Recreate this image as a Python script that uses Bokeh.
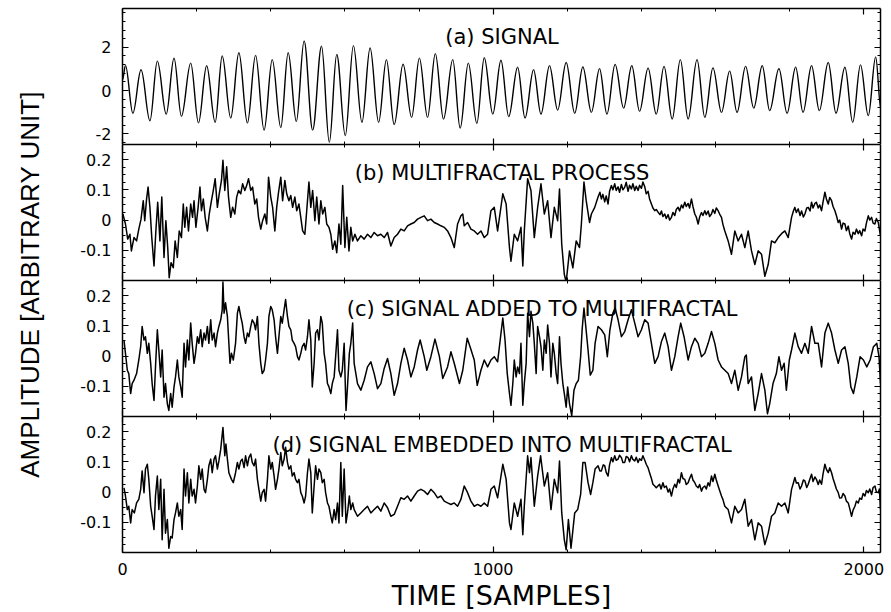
import math
from bokeh.plotting import figure
from bokeh.models import Range1d, LinearAxis, FixedTicker, PrintfTickFormatter, Label, Title
from bokeh.layouts import row, column
from bokeh.embed import file_html
from bokeh.resources import INLINE

# ---------------- data ----------------
# (a) signal: successive extrema (sample index, amplitude)
sig_x = [0, 8, 28, 50, 74, 94, 118, 139, 159, 184, 205, 227, 250, 269, 292, 314, 337, 359, 382, 404,
         427, 447, 469, 490, 513, 537, 558, 578, 601, 623, 646, 668, 691, 712, 733, 757, 780, 801, 823, 844,
         866, 891, 911, 933, 956, 976, 999, 1021, 1042, 1066, 1086, 1109, 1129, 1152, 1174, 1197, 1220, 1242, 1265, 1287,
         1307, 1329, 1352, 1374, 1395, 1418, 1440, 1461, 1483, 1505, 1526, 1550, 1571, 1593, 1616, 1638, 1658, 1681, 1703, 1726,
         1746, 1771, 1793, 1816, 1836, 1859, 1880, 1904, 1925, 1949, 1970, 1991, 2012, 2032, 2046]
sig_y = [0.5, 1.16, -1.05, 0.96, -1.40, 1.36, -1.09, 1.50, -1.19, 1.27, -1.50, 1.15, -1.47, 1.60, -1.27, 1.75, -1.50, 1.63, -1.83, 1.43,
         -1.71, 1.75, -1.43, 2.30, -1.83, 2.05, -2.40, 1.67, -2.09, 2.08, -1.47, 1.97, -1.47, 1.43, -1.58, 1.22, -1.24, 1.50, -1.24, 1.71,
         -1.32, 1.43, -1.74, 1.27, -1.52, 1.52, -1.09, 1.40, -1.21, 1.08, -1.27, 0.96, -1.09, 1.15, -0.90, 1.30, -1.05, 1.09, -1.01, 1.01,
         -1.09, 1.21, -0.81, 1.15, -0.96, 1.04, -1.09, 1.12, -1.32, 1.43, -1.32, 1.43, -1.24, 1.05, -1.01, 0.90, -1.01, 1.12, -0.81, 1.15,
         -0.93, 1.01, -1.05, 1.08, -1.01, 1.15, -0.93, 1.30, -1.05, 1.08, -1.47, 1.19, -1.16, 1.55, -0.85]

# (b) multifractal process, first half
b_x1 = [1, 8, 14, 20, 24, 31, 38, 44, 50, 56, 60, 65, 69, 74, 79, 85, 90, 95, 101, 106, 112, 117, 122, 126, 131, 137, 142, 148, 153, 159,
        164, 168, 173, 178, 184, 189, 193, 198, 204, 209, 213, 218, 223, 229, 234, 240, 245, 250, 256, 261, 267, 271, 276, 281, 286, 292, 297,
        303, 308, 313, 319, 324, 330, 335, 340, 346, 351, 357, 362, 367, 373, 378, 384, 389, 394, 400, 405, 411, 416, 421, 427, 432, 438, 443,
        449, 454, 459, 465, 470, 476, 481, 486, 492, 497, 503, 508, 513, 519, 524, 530, 535, 540, 546, 551, 557, 562, 567, 573, 578, 584, 589,
        594, 600, 605, 611, 616, 621, 627, 634, 643, 652, 661, 670, 679, 688, 697, 706, 715, 724, 733, 742, 751, 760, 769, 778, 787, 796, 805,
        814, 823, 832, 841, 850, 859, 868, 877, 886, 895, 904, 913, 918, 922, 931, 940, 949, 958, 967, 976, 985]
b_y1 = [0.020, -0.013, -0.063, -0.047, -0.102, -0.058, -0.069, -0.030, 0.003, 0.064, -0.002, 0.070, 0.109, 0.042, -0.058, -0.152, -0.036,
        0.059, -0.069, 0.076, -0.124, -0.002, -0.091, -0.191, -0.141, -0.158, -0.069, -0.124, -0.036, -0.058, 0.053, -0.024, 0.042, -0.036,
        0.053, 0.009, 0.064, -0.024, 0.042, 0.109, 0.031, 0.070, 0.009, -0.036, 0.020, 0.064, 0.098, 0.137, 0.042, 0.087, 0.131, 0.198, 0.098,
        0.176, 0.076, 0.009, 0.042, 0.020, 0.076, 0.098, 0.087, 0.120, 0.098, 0.114, 0.137, 0.098, 0.109, 0.053, 0.070, 0.009, -0.030, -0.002,
        0.020, -0.013, 0.142, 0.076, 0.042, -0.036, 0.042, 0.092, 0.142, 0.064, 0.131, 0.087, 0.064, 0.081, 0.042, 0.076, 0.031, 0.053, 0.009,
        -0.036, -0.047, 0.031, 0.126, 0.042, 0.098, -0.002, 0.076, -0.013, 0.064, 0.020, 0.042, -0.013, -0.024, -0.047, -0.097, -0.069, -0.108,
        -0.013, -0.080, 0.114, -0.091, 0.009, -0.102, -0.024, -0.069, -0.047, -0.069, -0.052, -0.063, -0.047, -0.058, -0.041, -0.052, -0.047,
        -0.058, -0.041, -0.086, -0.058, -0.047, -0.030, -0.036, -0.019, -0.013, -0.008, 0.003, 0.009, 0.014, -0.002, 0.003, -0.008, -0.013,
        -0.019, -0.024, -0.036, -0.058, -0.091, -0.013, 0.014, 0.020, -0.019, -0.008, -0.030, -0.036, -0.047, -0.036, -0.058, -0.047]
# (b) second half
b_x2 = [994, 1003, 1012, 1026, 1035, 1044, 1048, 1057, 1066, 1075, 1080, 1084, 1093, 1102, 1111, 1120, 1129, 1138, 1147, 1156,
        1165, 1174, 1179, 1185, 1192, 1197, 1206, 1215, 1224, 1233, 1238, 1245, 1251, 1260, 1265, 1274,
        1283, 1288, 1292, 1296, 1301, 1305, 1310, 1314, 1319, 1323, 1328, 1332, 1337, 1341, 1346, 1350, 1355, 1359, 1364, 1368,
        1373, 1377, 1382, 1386, 1391, 1395, 1400, 1404, 1409, 1413, 1418, 1422, 1427, 1431, 1436, 1440, 1445,
        1450, 1454, 1458, 1463, 1467, 1472, 1476, 1481, 1485, 1490, 1494, 1499, 1503, 1508, 1512, 1517, 1521, 1526, 1530, 1535,
        1539, 1544, 1548, 1553, 1557, 1562, 1566, 1571, 1575, 1580, 1584, 1589, 1593, 1598, 1602, 1607, 1611, 1616, 1620, 1625,
        1634, 1643, 1652, 1661, 1670, 1679, 1688, 1697, 1706, 1715, 1724, 1733, 1742, 1751, 1760, 1769, 1778, 1787, 1796,
        1805, 1810, 1814, 1818, 1823, 1828, 1832, 1837, 1841, 1846, 1850, 1855, 1859, 1863, 1868, 1872, 1877, 1881, 1886, 1890,
        1895, 1899, 1904, 1908, 1913, 1917, 1922, 1926, 1931, 1935, 1940, 1944, 1949, 1953, 1958, 1962, 1967, 1971, 1976, 1980,
        1985, 1989, 1994, 1998, 2003, 2007, 2012, 2016, 2021, 2025, 2030, 2034, 2039, 2042, 2045]
b_y2 = [0.031, 0.042, -0.036, 0.087, 0.053, -0.091, -0.136, -0.047, -0.069, -0.024, -0.152, -0.036, 0.137, 0.098, -0.058, 0.042,
        0.120, 0.020, 0.064, -0.058, 0.042, -0.002, 0.103, -0.080, -0.180, -0.205, -0.102, -0.158, -0.069, -0.091, -0.013, 0.126,
        0.064, -0.008, 0.020, 0.042,
        0.076, 0.092, 0.070, 0.085, 0.060, 0.080, 0.053, 0.095, 0.114, 0.100, 0.120, 0.098, 0.110, 0.092, 0.118, 0.100, 0.109, 0.125,
        0.095, 0.115, 0.103, 0.120, 0.098, 0.112, 0.098, 0.115, 0.105, 0.126, 0.110, 0.087, 0.095, 0.070, 0.053, 0.040, 0.031, 0.035,
        0.026,
        0.018, 0.030, 0.012, 0.020, 0.005, 0.018, 0.000, 0.009, 0.025, 0.015, 0.035, 0.042, 0.030, 0.050, 0.040, 0.059, 0.045, 0.055,
        0.040, 0.070, 0.045, 0.020, 0.010, -0.013, 0.010, 0.025, 0.015, 0.031, 0.018, 0.030, 0.012, 0.020, 0.035, 0.022, 0.040, 0.031,
        0.020, 0.009, -0.015, -0.036,
        -0.069, -0.113, -0.036, -0.069, -0.047, -0.091, -0.036, -0.102, -0.147, -0.102, -0.113, -0.186, -0.147, -0.069, -0.075, -0.058,
        -0.045, -0.036, -0.058,
        0.009, 0.030, 0.042, 0.025, 0.037, 0.015, 0.030, 0.010, 0.020, 0.040, 0.042, 0.030, 0.059, 0.040, 0.055, 0.059, 0.040, 0.050,
        0.031, 0.060, 0.092, 0.070, 0.053, 0.075, 0.064, 0.045, 0.031, 0.015, -0.008, 0.000, -0.030, -0.010, -0.013, -0.035, -0.020,
        -0.045, -0.063, -0.040, -0.047, -0.030, -0.045, -0.035, -0.052, -0.030, -0.036, -0.010, 0.014, 0.000, 0.009, -0.010, -0.013,
        0.005, -0.008, -0.030, -0.052]

# (c) signal added to multifractal
c_x = [4, 8, 13, 17, 22, 26, 31, 38, 44, 49, 53, 58, 62, 67, 71, 76, 80, 85, 89, 94, 98, 103, 107, 112, 116, 121, 125, 130, 134, 139, 143,
       148, 152, 157, 161, 166, 170, 175, 179, 184, 188, 193, 197, 202, 206, 211, 215, 220, 224, 229, 233, 238, 242, 247, 251, 256, 260, 265,
       269, 271, 274, 278, 283, 287, 290, 294, 299, 305, 310, 314, 319, 323, 328, 332, 337, 341, 346, 350, 355, 359, 364, 368, 373, 377, 382,
       386, 391, 395, 400, 404, 409, 413, 418, 422, 427, 431, 436, 440, 445, 449, 454, 458, 463, 467, 472, 476, 481, 485, 490, 494, 499, 503,
       508, 512, 517, 521, 526, 530, 535, 539, 544, 548, 553, 557, 562, 566, 571, 575, 580, 584, 589, 593, 598, 603, 607, 612, 616, 621, 625,
       634, 643, 652, 661, 670, 679, 688, 697, 706, 715, 724, 733, 742, 751, 760, 769, 778, 787, 796, 803, 814, 821, 832, 843, 855, 864, 877,
       886, 895, 909, 918, 930, 939, 949, 957, 967, 976, 985,
       994, 1003, 1012, 1020, 1026, 1032, 1038, 1044, 1048, 1053, 1057, 1062, 1066, 1071, 1075, 1080, 1084, 1089, 1093, 1098, 1102, 1107,
       1111, 1116, 1120, 1125, 1129, 1134, 1138, 1143, 1147, 1152, 1156, 1161, 1165, 1170, 1174, 1179, 1183, 1188, 1192, 1197, 1201, 1206,
       1212, 1218, 1224, 1230, 1236, 1240, 1245, 1249, 1256, 1262, 1269, 1275, 1283, 1292, 1301, 1308, 1315, 1323, 1329, 1337, 1346, 1355,
       1364, 1373, 1382, 1391, 1400, 1409, 1418, 1427, 1436, 1445, 1454, 1463, 1472, 1481, 1490, 1499, 1506, 1515, 1526, 1535, 1544, 1553,
       1562, 1571, 1580, 1589, 1598, 1607, 1616, 1625, 1634, 1643, 1652, 1661, 1670, 1679, 1683, 1688, 1697, 1706, 1715, 1724, 1733, 1740,
       1746, 1755, 1764, 1771, 1778, 1785, 1791, 1799, 1805, 1814, 1823, 1832, 1841, 1850, 1859, 1868, 1877, 1886, 1895, 1904, 1913, 1922,
       1931, 1940, 1949, 1958, 1965, 1972, 1981, 1990, 1999, 2008, 2017, 2026, 2035, 2041, 2045]
c_y = [0.053, 0.009, -0.047, -0.058, -0.124, -0.091, -0.080, -0.058, -0.013, 0.031, 0.098, 0.053, 0.064, 0.009, 0.042, -0.024, -0.091,
       -0.147, -0.036, 0.087, 0.020, -0.069, 0.020, -0.136, -0.091, -0.158, -0.180, -0.124, -0.169, -0.102, -0.069, -0.013, -0.069, -0.102,
       -0.136, 0.042, -0.036, 0.053, -0.013, 0.109, 0.042, -0.024, 0.009, 0.064, 0.042, 0.087, 0.031, 0.076, 0.053, 0.098, 0.042, 0.120,
       0.053, 0.076, 0.031, 0.076, 0.098, 0.120, 0.153, 0.245, 0.142, 0.176, 0.131, 0.042, -0.024, 0.009, -0.013, 0.042, 0.142, 0.164, 0.131,
       0.109, 0.064, 0.042, 0.076, 0.064, 0.098, 0.120, 0.109, 0.087, 0.131, 0.042, -0.024, -0.058, -0.047, -0.013, 0.042, 0.131, 0.164,
       0.153, 0.120, 0.064, 0.009, 0.064, 0.131, 0.109, 0.153, 0.187, 0.131, 0.098, 0.087, 0.053, 0.042, 0.031, -0.002, -0.013, 0.009, 0.031,
       0.042, 0.020, 0.064, 0.120, 0.053, -0.102, -0.024, 0.076, 0.087, 0.053, 0.131, 0.109, 0.009, -0.024, -0.091, -0.102, -0.124, -0.091,
       -0.069, -0.002, 0.087, -0.047, -0.069, -0.047, 0.042, -0.180, -0.102, 0.009, 0.042, 0.109, -0.024, -0.091, -0.113, -0.080, -0.036,
       -0.019, -0.058, -0.108, -0.091, -0.041, -0.008, -0.058, -0.130, -0.091, -0.024, 0.026, -0.013, -0.069, -0.036, 0.020, 0.053, -0.002,
       -0.047, -0.002, 0.056, -0.002, -0.074, -0.036, 0.014, -0.024, -0.091, -0.047, 0.059, 0.026, -0.013, -0.097, -0.047, -0.013, -0.036,
       -0.013, -0.002, -0.019, 0.064, 0.126, 0.053, -0.058, -0.124, -0.163, -0.091, -0.013, -0.069, -0.036, -0.058, 0.042, -0.163, -0.091,
       -0.024, 0.142, 0.064, 0.148, 0.109, 0.042, -0.058, 0.098, 0.064, 0.031, -0.047, 0.053, 0.009, 0.103, 0.042, -0.069, 0.042, 0.009,
       -0.058, -0.091, 0.064, -0.024, -0.091, -0.124, -0.169, -0.102, -0.158, -0.197, -0.113, -0.091, -0.080, -0.002, 0.087, 0.159, 0.109,
       0.020, -0.063, -0.047, 0.042, 0.098, 0.087, 0.070, -0.002, 0.087, 0.142, 0.159, 0.120, 0.064, 0.081, 0.120, 0.153, 0.109, 0.064,
       0.087, 0.120, 0.109, 0.042, -0.024, -0.002, 0.048, 0.076, 0.031, -0.047, -0.002, 0.064, 0.109, 0.064, -0.013, 0.031, 0.059, 0.042,
       -0.002, 0.009, 0.042, 0.081, 0.042, -0.013, -0.036, -0.047, -0.058, -0.091, -0.047, -0.113, -0.069, -0.002, 0.003, -0.091, -0.069,
       -0.180, -0.124, -0.058, -0.113, -0.191, -0.158, -0.091, -0.058, -0.002, -0.047, -0.024, -0.113, -0.013, 0.020, 0.076, 0.031, 0.009,
       0.042, 0.009, 0.098, 0.042, 0.042, -0.036, 0.076, 0.109, 0.076, 0.020, -0.024, 0.020, 0.031, -0.024, -0.102, -0.124, -0.069, -0.002,
       -0.013, -0.036, -0.013, 0.031, 0.042, -0.002, -0.091]

# (d) signal embedded into multifractal, first half
d_x1 = [4, 8, 13, 17, 22, 26, 32, 38, 44, 49, 53, 58, 62, 67, 71, 76, 80, 85, 89, 94, 98, 103, 107, 112, 116, 121, 125, 130, 134, 139, 143,
        148, 152, 157, 161, 166, 170, 175, 179, 184, 188, 193, 197, 202, 206, 211, 215, 220, 224, 229, 233, 238, 242, 247, 251, 256, 260, 265,
        271, 276, 279, 283, 287, 294, 299, 305, 310, 314, 319, 323, 328, 332, 337, 341, 346, 350, 355, 359, 364, 368, 373, 377, 382, 386, 391,
        395, 400, 404, 409, 413, 418, 422, 427, 431, 436, 440, 445, 449, 454, 458, 463, 467, 472, 476, 481, 485, 490, 494, 499, 503, 508, 512,
        517, 521, 526, 530, 535, 539, 544, 548, 553, 557, 562, 566, 571, 575, 580, 584, 589, 593, 598, 603, 607, 612, 616, 621, 625, 634, 643,
        652, 661, 670, 679, 688, 697, 706, 715, 724, 733, 742, 751, 760, 769, 778, 787, 796, 805, 814, 823, 832, 841, 850, 859, 868, 877, 886,
        895, 904, 913, 922, 931, 940, 949, 958, 967, 976, 985]
d_y1 = [0.014, -0.013, -0.058, -0.047, -0.102, -0.058, -0.069, -0.036, -0.024, 0.009, 0.070, -0.002, 0.076, 0.092, 0.042, -0.047, -0.080,
        -0.124, -0.013, 0.053, -0.058, 0.042, -0.158, 0.009, -0.136, -0.091, -0.186, -0.147, -0.152, -0.091, -0.069, -0.036, -0.080, -0.058,
        -0.124, 0.076, -0.013, 0.064, -0.036, 0.042, -0.013, 0.009, -0.036, 0.020, 0.087, 0.042, 0.076, 0.009, -0.002, 0.042, 0.087, 0.109,
        0.064, 0.109, 0.120, 0.076, 0.103, 0.142, 0.214, 0.120, 0.159, 0.109, 0.064, 0.042, 0.031, 0.064, 0.098, 0.076, 0.103, 0.109, 0.081,
        0.120, 0.087, 0.114, 0.126, 0.098, 0.087, 0.109, 0.042, 0.009, -0.030, -0.002, 0.009, -0.030, 0.042, 0.120, 0.076, 0.098, 0.053, 0.009,
        0.042, 0.076, 0.131, 0.087, 0.109, 0.148, 0.098, 0.076, 0.087, 0.053, 0.064, 0.042, 0.031, 0.042, -0.002, -0.013, -0.036, -0.013,
        0.064, 0.109, 0.064, -0.069, 0.020, 0.087, 0.042, 0.076, 0.064, 0.031, 0.042, -0.002, -0.036, -0.047, -0.080, -0.102, -0.058, -0.091,
        -0.036, -0.102, 0.098, -0.080, 0.076, -0.102, -0.069, -0.013, -0.058, -0.036, -0.058, -0.080, -0.069, -0.058, -0.047, -0.069, -0.058,
        -0.047, -0.063, -0.036, -0.052, -0.080, -0.074, -0.047, -0.019, -0.024, -0.013, -0.030, -0.013, 0.003, 0.009, 0.003, -0.008, 0.009,
        -0.002, -0.019, -0.013, -0.030, -0.036, -0.041, -0.036, -0.047, -0.024, 0.020, -0.002, -0.030, -0.047, -0.041, -0.047, -0.036, -0.047]
# (d) second half
d_x2 = [994, 1003, 1012, 1026, 1035, 1044, 1048, 1057, 1066, 1075, 1080, 1084, 1093, 1098, 1102, 1111, 1120, 1128, 1138, 1147,
        1156, 1165, 1174, 1179, 1185, 1192, 1197, 1203, 1210, 1220, 1228, 1236, 1242, 1248, 1256, 1263, 1269, 1275,
        1283, 1288, 1292, 1297, 1301, 1305, 1310, 1314, 1319, 1323, 1328, 1332, 1337, 1341, 1346, 1350, 1355, 1359, 1364, 1368,
        1373, 1377, 1382, 1386, 1391, 1395, 1400, 1404, 1409, 1413, 1418, 1422, 1427, 1431, 1436, 1440,
        1449, 1453, 1458, 1462, 1467, 1472, 1476, 1481, 1485, 1490, 1494, 1499, 1503, 1508, 1512, 1517, 1521, 1526, 1530, 1535,
        1539, 1544, 1548, 1553, 1557, 1562, 1566, 1571, 1575, 1580, 1584, 1589, 1593, 1598, 1602, 1607, 1611, 1616, 1620, 1625,
        1634, 1643, 1652, 1661, 1670, 1679, 1688, 1697, 1706, 1715, 1724, 1733, 1742, 1751, 1760, 1769, 1778, 1787, 1796,
        1805, 1810, 1814, 1818, 1823, 1828, 1832, 1837, 1841, 1846, 1850, 1855, 1859, 1863, 1868, 1872, 1877, 1881, 1886, 1890,
        1895, 1899, 1904, 1908, 1913, 1917, 1922, 1926, 1931, 1935, 1940, 1944, 1949, 1953, 1958, 1962, 1967, 1971, 1976, 1980,
        1985, 1989, 1994, 1998, 2003, 2007, 2012, 2016, 2021, 2025, 2030, 2034, 2039, 2042, 2045]
d_y2 = [0.009, 0.020, -0.019, 0.092, 0.042, -0.102, -0.124, -0.036, -0.080, -0.024, -0.141, -0.047, 0.120, 0.064, 0.114, -0.047,
        0.053, 0.120, 0.020, 0.064, -0.058, 0.042, -0.002, 0.103, -0.069, -0.158, -0.191, -0.091, -0.186, -0.069, -0.058, -0.008,
        0.098, 0.098, 0.031, -0.008, 0.031, 0.076,
        0.087, 0.070, 0.070, 0.090, 0.087, 0.065, 0.053, 0.090, 0.114, 0.100, 0.120, 0.105, 0.109, 0.122, 0.114, 0.098, 0.098, 0.118,
        0.114, 0.100, 0.120, 0.108, 0.103, 0.115, 0.098, 0.110, 0.105, 0.120, 0.105, 0.092, 0.080, 0.064, 0.045, 0.026, 0.020, 0.014,
        0.026, 0.010, 0.031, 0.015, 0.020, 0.000, 0.010, -0.013, 0.010, 0.026, 0.015, 0.042, 0.030, 0.064, 0.045, 0.042, 0.025, 0.031,
        0.045, 0.059, 0.040, 0.031, 0.020, 0.014, 0.025, 0.003, 0.015, 0.020, 0.010, 0.031, 0.020, 0.053, 0.035, 0.059, 0.040, 0.020,
        0.005, -0.013, -0.025, -0.047,
        -0.058, -0.102, -0.047, -0.069, -0.058, -0.024, -0.113, -0.091, -0.158, -0.102, -0.113, -0.174, -0.136, -0.080, -0.069, -0.036,
        -0.047, -0.036, -0.069,
        0.009, 0.030, 0.048, 0.030, 0.031, 0.010, 0.020, 0.040, 0.037, 0.015, 0.026, 0.045, 0.059, 0.035, 0.050, 0.042, 0.025, 0.040,
        0.026, 0.060, 0.092, 0.075, 0.064, 0.080, 0.064, 0.045, 0.026, 0.010, -0.002, -0.020, -0.019, -0.005, -0.013, -0.030, -0.036,
        -0.055, -0.080, -0.060, -0.047, -0.030, -0.036, -0.020, -0.024, -0.005, -0.013, 0.005, -0.002, 0.010, -0.008, 0.015, 0.020,
        0.000, -0.002, 0.010, -0.058]

titles = ["(a) SIGNAL", "(b) MULTIFRACTAL PROCESS", "(c) SIGNAL ADDED TO MULTIFRACTAL",
          "(d) SIGNAL EMBEDDED INTO MULTIFRACTAL"]
x_label = "TIME [SAMPLES]"
y_label = "AMPLITUDE [ARBITRARY UNIT]"

b_x = b_x1 + b_x2
b_y = b_y1 + b_y2
d_x = d_x1 + d_x2
d_y = d_y1 + d_y2
for a, b in [(sig_x, sig_y), (b_x1, b_y1), (b_x2, b_y2), (c_x, c_y), (d_x1, d_y1), (d_x2, d_y2)]:
    assert len(a) == len(b), (len(a), len(b))

# ---------------- layout / styling ----------------
LAB_W = 60
W = 891 - LAB_W
FONT = "DejaVu Sans"
xr = Range1d(0, 2045)

x_major = [0, 1000, 2000]
x_ticker = FixedTicker(ticks=x_major, minor_ticks=list(range(0, 2045, 200)))
a_major = [-2, 0, 2]
ticker_a = FixedTicker(ticks=a_major, minor_ticks=[round(-2.4 + 0.4 * i, 3) for i in range(16)])
m_major = [-0.1, 0, 0.1, 0.2]
ticker_m = FixedTicker(ticks=m_major, minor_ticks=[round(-0.2 + 0.025 * i, 4) for i in range(19)])


def style_axis(ax, ticker, majors, labels, standoff=11):
    ax.ticker = ticker
    ax.formatter = PrintfTickFormatter(format="%g")
    ax.axis_line_color = "black"
    ax.axis_line_width = 1.5
    ax.major_tick_line_color = "black"
    ax.minor_tick_line_color = "black"
    ax.major_tick_line_width = 1.2
    ax.minor_tick_line_width = 1.0
    ax.major_tick_in = 6
    ax.major_tick_out = 0
    ax.minor_tick_in = 3
    ax.minor_tick_out = 0
    ax.axis_label = None
    if labels:
        ax.major_label_text_font = FONT
        ax.major_label_text_font_size = "16px"
        ax.major_label_text_color = "black"
        ax.major_label_standoff = standoff
    else:
        ax.major_label_overrides = {t: "" for t in majors}
        ax.major_label_text_font_size = "0px"
        ax.major_label_standoff = 0


def panel(height, yr, y_ticker, y_majors, top, bottom, show_x):
    p = figure(width=W, height=height, x_range=xr, y_range=Range1d(*yr),
               output_backend="svg", toolbar_location=None,
               min_border_left=62, min_border_right=11,
               min_border_top=top, min_border_bottom=bottom)
    p.outline_line_color = None
    p.grid.visible = False
    style_axis(p.xaxis[0], x_ticker, x_major, show_x, standoff=10)
    style_axis(p.yaxis[0], y_ticker, y_majors, True)
    ax_top = LinearAxis()
    style_axis(ax_top, x_ticker, x_major, False)
    p.add_layout(ax_top, "above")
    ax_r = LinearAxis()
    style_axis(ax_r, y_ticker, y_majors, False)
    p.add_layout(ax_r, "right")
    return p


fa = panel(144, (-2.5, 3.8), ticker_a, a_major, 8, 0, False)
fb = panel(136, (-0.2, 0.25), ticker_m, m_major, 0, 0, False)
fc = panel(136, (-0.2, 0.25), ticker_m, m_major, 0, 0, False)
fd = panel(196, (-0.2, 0.25), ticker_m, m_major, 0, 60, True)

LW = 1.5
# signal drawn as smooth half-cycles between successive extrema
k = 0.3634
x0 = sig_x[:-1]; x1 = sig_x[1:]; y0 = sig_y[:-1]; y1 = sig_y[1:]
cx0 = [a + k * (b - a) for a, b in zip(x0, x1)]
cx1 = [b - k * (b - a) for a, b in zip(x0, x1)]
fa.bezier(x0=x0, y0=y0, x1=x1, y1=y1, cx0=cx0, cy0=y0, cx1=cx1, cy1=y1,
          line_color="black", line_width=1.4)

fb.line(b_x, b_y, line_color="black", line_width=LW, line_join="round")
fc.line(c_x, c_y, line_color="black", line_width=LW, line_join="round")
fd.line(d_x, d_y, line_color="black", line_width=LW, line_join="round")

title_x = [1024, 1024, 1132, 1024]
for p, t, tx in zip([fa, fb, fc, fd], titles, title_x):
    p.add_layout(Label(x=tx, y=108, x_units="data", y_units="screen", text=t,
                       text_align="center", text_baseline="alphabetic",
                       text_font=FONT, text_font_size="21px", text_color="black"))

fd.add_layout(Title(text=x_label, align="center", text_font=FONT, text_font_size="27px",
                    text_font_style="normal", text_color="black", standoff=0), "below")

lab = figure(width=LAB_W, height=612, x_range=Range1d(0, 1), y_range=Range1d(0, 1),
             output_backend="svg", toolbar_location=None, x_axis_location=None, y_axis_location=None,
             min_border_left=0, min_border_right=0, min_border_top=0, min_border_bottom=0)
lab.outline_line_color = None
lab.grid.visible = False
lab.add_layout(Label(x=29, y=328, x_units="screen", y_units="screen", text=y_label, angle=math.pi / 2,
                     text_align="center", text_baseline="middle",
                     text_font="Liberation Sans", text_font_size="26px", text_color="black"))

layout = row(lab, column(fa, fb, fc, fd))
open("out.html", "w").write(file_html(layout, INLINE))
